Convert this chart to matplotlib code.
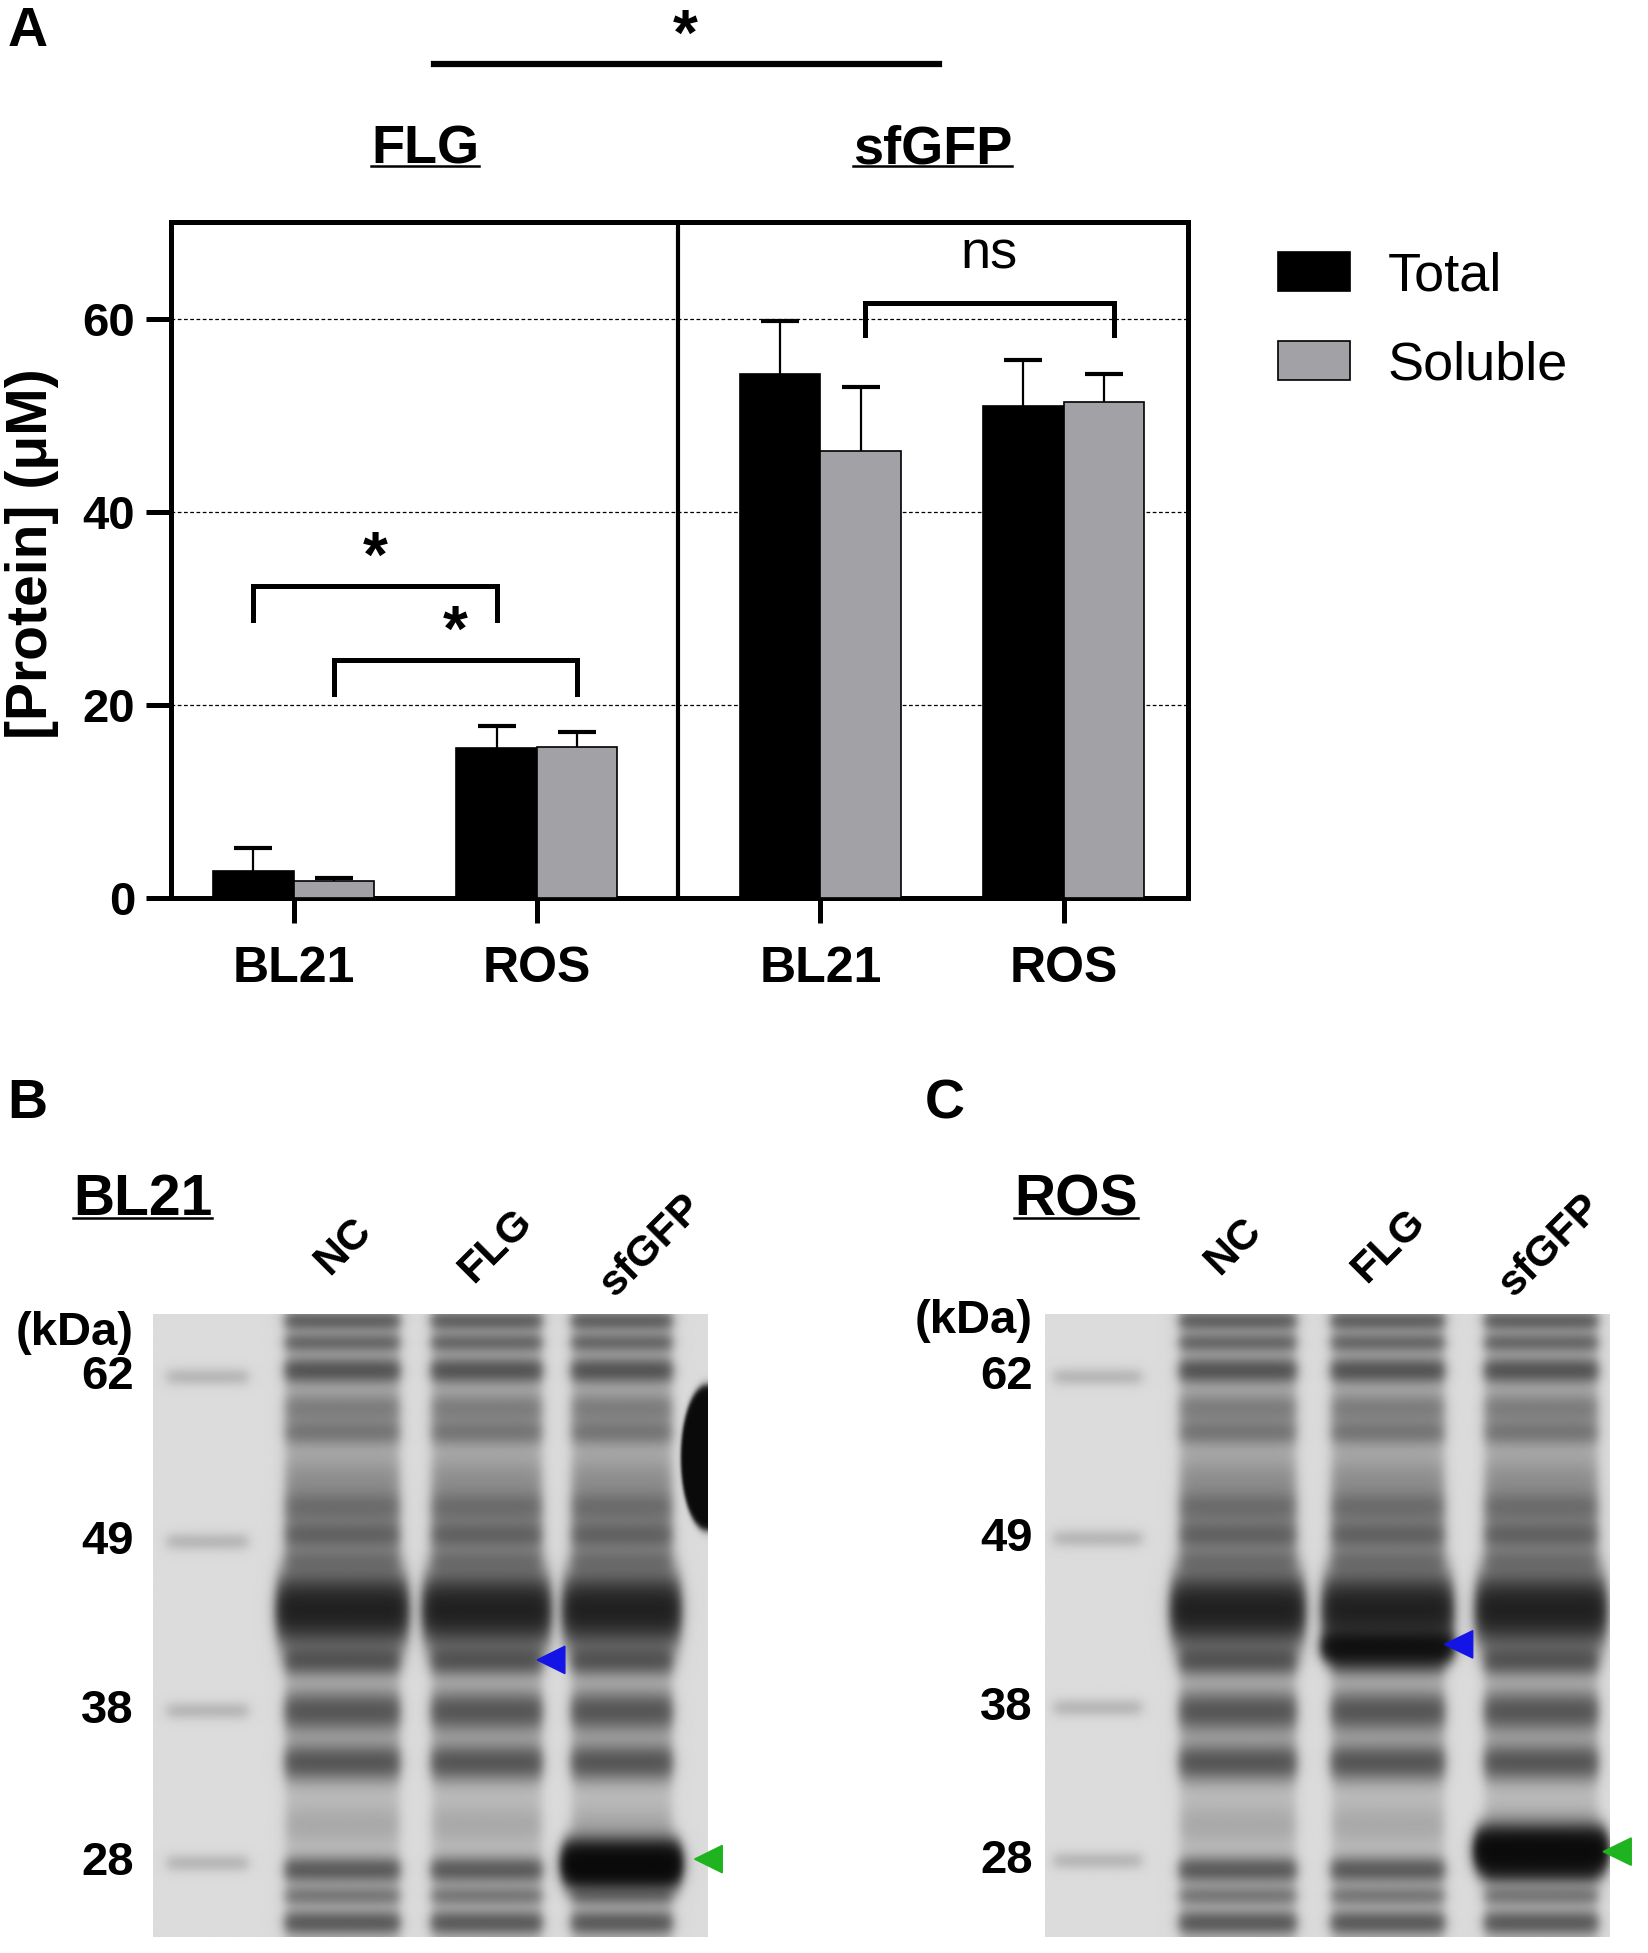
import numpy as np
import matplotlib
matplotlib.use("Agg")
import matplotlib.pyplot as plt
from matplotlib.lines import Line2D
from matplotlib.patches import Patch

plt.rcParams["font.family"] = ["Liberation Sans", "DejaVu Sans"]

# ---- datos panel A ----
strains = ["BL21", "ROS", "BL21", "ROS"]
proteins = ["FLG", "sfGFP"]
total = [2.8, 15.5, 54.3, 50.9]
total_err = [2.4, 2.3, 5.4, 4.8]
soluble = [1.7, 15.6, 46.3, 51.4]
soluble_err = [0.3, 1.6, 6.6, 2.9]
yticks = [0, 20, 40, 60]

# ---- datos geles ----
marker_kda = ["62", "49", "38", "28"]
lanes = ["NC", "FLG", "sfGFP"]
markerB = [0.100, 0.365, 0.637, 0.882]
markerC = [0.100, 0.360, 0.632, 0.878]
# bandas del huesped: posicion (fraccion alto), intensidad, ancho
host_pos = [0.010, 0.045, 0.090, 0.150, 0.190, 0.265, 0.310, 0.355, 0.395,
            0.300, 0.475, 0.558, 0.638, 0.720, 0.820, 0.893, 0.935, 0.978]
host_int = [0.45, 0.40, 0.55, 0.26, 0.26, 0.10, 0.28, 0.36, 0.22,
            0.10, 1.30, 0.48, 0.55, 0.55, 0.08, 0.50, 0.30, 0.50]
host_sig = [0.011, 0.011, 0.014, 0.018, 0.014, 0.022, 0.018, 0.016, 0.014,
            0.090, 0.036, 0.016, 0.022, 0.020, 0.022, 0.014, 0.011, 0.013]
# bandas extra (gel, carril, pos, intensidad, ancho)
extra_bands = [("B", 2, 0.883, 2.5, 0.022),
               ("C", 1, 0.535, 1.5, 0.015),
               ("C", 2, 0.862, 2.5, 0.022)]
lanesB_x = [(0.025, 0.17), (0.239, 0.443), (0.503, 0.700), (0.756, 0.935)]
lanesC_x = [(0.015, 0.17), (0.239, 0.443), (0.508, 0.706), (0.780, 0.978)]
labelsB_x = [0.345, 0.62, 0.90]
labelsC_x = [0.334, 0.609, 0.895]


def sig(z):
    return 1.0 / (1.0 + np.exp(-z))


def gel_image(name, lanes_x, marker_pos, nrow=520, ncol=460):
    y = np.linspace(0, 1, nrow)[:, None]
    x = np.linspace(0, 1, ncol)[None, :]
    dens = np.zeros((nrow, ncol))
    s = 0.006
    x0, x1 = lanes_x[0]
    m = sig((x - x0) / s) * sig((x1 - x) / s)
    for p in marker_pos:
        dens += 0.12 * np.exp(-0.5 * ((y - p) / 0.010) ** 2) * m
    for k, (x0, x1) in enumerate(lanes_x[1:]):
        m = sig((x - x0) / s) * sig((x1 - x) / s)
        dens += 0.10 * m
        bands = list(zip(host_pos, host_int, host_sig))
        bands += [(p, d, w) for g, ln, p, d, w in extra_bands if g == name and ln == k]
        for p, d, w in bands:
            b = 0.014 if d > 1 else 0.0
            mb = sig((x - x0 + b) / s) * sig((x1 + b - x) / s)
            dens += d * np.exp(-0.5 * ((y - p) / w) ** 2) * mb
    if name == "B":
        dens += 3.0 * sig((1 - ((x - 1.0) / 0.045) ** 2 - ((y - 0.23) / 0.11) ** 2) / 0.08)
    bg = 0.86
    return bg - (bg - 0.03) * (1 - np.exp(-1.5 * dens))


fig = plt.figure(figsize=(16.49, 19.53), dpi=100)

# ---------------- Panel A ----------------
ax = fig.add_axes([0.1038, 0.5403, 0.6165, 0.346])
centers = np.array([1.52, 4.54, 8.06, 11.08])
bw = 1.0
ax.bar(centers - bw / 2, total, bw, color="black", edgecolor="black", linewidth=1.2, zorder=3)
ax.bar(centers + bw / 2, soluble, bw, color="#a2a2a6", edgecolor="black", linewidth=1.2,
       zorder=3)
for xs, vals, errs in [(centers - bw / 2, total, total_err),
                       (centers + bw / 2, soluble, soluble_err)]:
    eb = ax.errorbar(xs, vals, yerr=[np.zeros(4), errs], fmt="none", ecolor="black",
                     elinewidth=1.6, capsize=14, capthick=3, zorder=2)
    eb[1][0].set_visible(False)  # sin tapa inferior

ax.set_xlim(0, 12.62)
ax.set_ylim(0, 70)
ax.set_yticks(yticks)
ax.set_xticks(centers)
ax.set_xticklabels(strains)
for t in yticks[1:]:
    ax.axhline(t, color="black", lw=0.9, ls=(0, (3, 2)), zorder=1)
ax.axvline(6.29, color="black", lw=3.0, zorder=4)
for sp in ax.spines.values():
    sp.set_linewidth(3.6)
ax.tick_params(axis="both", width=3.6, length=18, direction="out")
ax.tick_params(axis="y", labelsize=34, pad=8)
ax.tick_params(axis="x", labelsize=36, pad=17)
for lab in ax.get_xticklabels() + ax.get_yticklabels():
    lab.set_fontweight("bold")


def bracket(x0, x1, ytop, ybot, label, ylab, size, weight):
    ax.plot([x0, x0, x1, x1], [ybot, ytop, ytop, ybot], color="black", lw=3.6,
            solid_joinstyle="miter", zorder=5, clip_on=False)
    ax.text((x0 + x1) / 2, ylab, label, ha="center", va="center", fontsize=size,
            fontweight=weight, zorder=5)


bracket(centers[0] - 0.5, centers[1] - 0.5, 32.3, 28.8, "*", 35.0, 46, "bold")
bracket(centers[0] + 0.5, centers[1] + 0.5, 24.6, 21.1, "*", 27.3, 46, "bold")
bracket(centers[2] + 0.55, centers[3] + 0.62, 61.6, 58.3, "ns", 66.6, 39, "normal")

handles = [Patch(facecolor="black", edgecolor="black", lw=1.2, label="Total"),
           Patch(facecolor="#a2a2a6", edgecolor="black", lw=1.2, label="Soluble")]
fig.legend(handles=handles, loc="upper left", bbox_to_anchor=(0.7585, 0.885),
           frameon=False, fontsize=39, handlelength=1.33, handleheight=0.72,
           handletextpad=0.7, labelspacing=0.72, borderpad=0)

fig.text(0.0195, 0.7165, "[Protein] (\u03bcM)", rotation=90, ha="center", va="center",
         fontsize=41, fontweight="bold")
fig.text(0.0165, 0.9835, "A", ha="center", va="center", fontsize=40, fontweight="bold")

# comparacion superior
fig.add_artist(Line2D([350 / 1330, 757 / 1330], [0.9673, 0.9673], color="black", lw=4.5))
fig.text(553 / 1330, 0.9808, "*", ha="center", va="center", fontsize=46, fontweight="bold")
titles = []
titles.append(fig.text(343 / 1330, 0.9235, proteins[0], ha="center", va="center",
                       fontsize=39, fontweight="bold"))
titles.append(fig.text(752 / 1330, 0.9235, proteins[1], ha="center", va="center",
                       fontsize=39, fontweight="bold"))

# ---------------- Paneles B y C ----------------
gels = [("B", [0.0925, 0.00825, 0.3361, 0.3187], lanesB_x, markerB, labelsB_x, "BL21",
         (0.0165, 0.4345), (0.0865, 0.3855), -0.034, 0.030,
         [(0.694, 0.555, "#1414e6"), (0.978, 0.875, "#1fb41f")]),
        ("C", [0.6338, 0.00825, 0.3421, 0.3187], lanesC_x, markerC, labelsC_x, "ROS",
         (0.573, 0.4345), (0.6526, 0.3855), -0.022, 0.010,
         [(0.708, 0.530, "#1414e6"), (0.989, 0.863, "#1fb41f")])]
for name, rect, lx, mpos, labx, head, lpos, hpos, lab_x, kda_y, arrows in gels:
    g = fig.add_axes(rect)
    g.imshow(gel_image(name, lx, mpos), cmap="gray", vmin=0, vmax=1, aspect="auto",
             extent=[0, 1, 1, 0], interpolation="bilinear")
    g.set_xlim(0, 1)
    g.set_ylim(1, 0)
    g.axis("off")
    fig.text(lpos[0], lpos[1], name, ha="center", va="center", fontsize=40, fontweight="bold")
    titles.append(fig.text(hpos[0], hpos[1], head, ha="center", va="center",
                           fontsize=41, fontweight="bold"))
    g.text(lab_x, kda_y, "(kDa)", ha="right", va="center", fontsize=34,
           fontweight="bold", clip_on=False)
    for k, p in zip(marker_kda, mpos):
        g.text(lab_x, p, k, ha="right", va="center", fontsize=34, fontweight="bold",
               clip_on=False)
    for xc, ln in zip(labx, lanes):
        g.text(xc, -0.11, ln, rotation=45, rotation_mode="anchor",
               ha="center", va="center", fontsize=31, fontweight="bold", clip_on=False)
    # flechas
    for tx, ty, c in arrows:
        g.fill([tx, tx + 0.05, tx + 0.05], [ty, ty - 0.022, ty + 0.022], color=c,
               clip_on=False, zorder=6)

# subrayados
fig.canvas.draw()
r = fig.canvas.get_renderer()
inv = fig.transFigure.inverted()
for t in titles:
    bb = t.get_window_extent(renderer=r)
    (x0, y0), (x1, y1) = inv.transform([[bb.x0, bb.y0], [bb.x1, bb.y1]])
    yline = y0 + (y1 - y0) * 0.17
    fig.add_artist(Line2D([x0, x1], [yline, yline], color="black", lw=1.8))

fig.savefig("out.png", dpi=100)
